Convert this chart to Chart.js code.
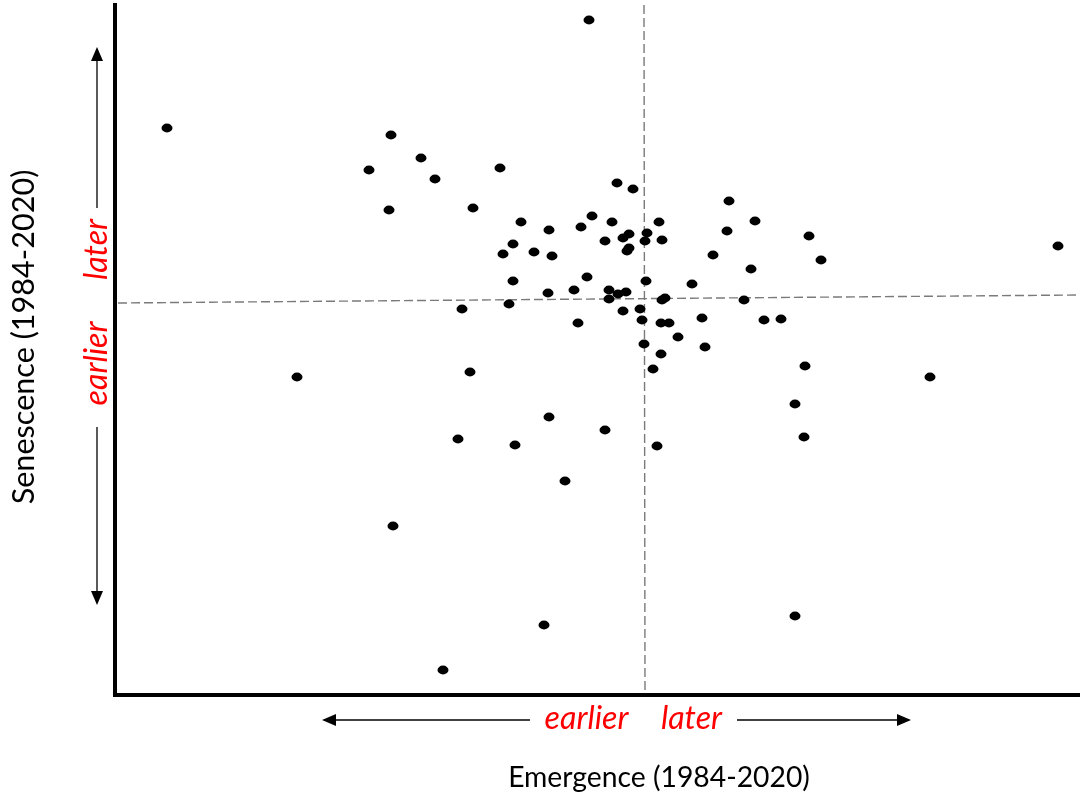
<!DOCTYPE html>
<html>
<head>
<meta charset="utf-8">
<script src="https://cdn.jsdelivr.net/npm/chart.js@4"></script>
<style>
  html, body { margin: 0; padding: 0; background: #fff; }
  canvas { display: block; }
</style>
</head>
<body>
<canvas id="scatter" width="1080" height="799"></canvas>
<script>
// shift in timing per site, arbitrary units (0 = reference date)
const emergence = [
  -47.8, -25.4, -22.4, -27.6, -21.0, -25.6, -5.6, -14.5, -2.8, -1.2,
  -17.2, 8.4, -12.4, -5.3, -3.3, 1.4, 11.0, -9.6, -6.4, -1.6,
  -2.2, 0.2, -4.0, 0.0, 1.7, 8.2, -13.2, -1.6, -1.8, -14.2,
  -11.1, -9.3, 6.8, 16.4, 17.6, 41.3, 10.6, -13.2, -5.8, 0.1,
  4.7, -9.7, -7.1, -3.6, -3.6, -2.7, -1.9, 1.7, 2.0, 9.9,
  -18.3, -13.6, -2.2, -0.5, -0.3, -6.7, 1.6, 2.4, 5.7, 11.9,
  13.6, 3.3, -0.1, 6.0, 1.6, 0.8, -17.5, -34.8, 16.0, 28.5,
  15.0, 15.9, -9.6, -4.0, -18.7, -13.0, 1.2, -8.0, -25.2, -10.1,
  15.0, -20.2
];
const senescence = [
  17.1, 16.4, 14.1, 12.9, 12.0, 8.9, 27.9, 13.1, 11.6, 11.0,
  9.1, 9.8, 7.7, 8.3, 7.7, 7.7, 7.8, 6.9, 7.2, 6.5,
  6.1, 6.6, 5.8, 5.8, 5.9, 6.8, 5.5, 5.1, 4.8, 4.5,
  4.7, 4.3, 4.4, 6.3, 3.9, 5.3, 3.0, 1.8, 2.2, 1.8,
  1.5, 0.6, 0.9, 0.9, 0.0, 0.5, 0.7, -0.1, 0.1, -0.1,
  -1.0, -0.5, -1.2, -1.0, -2.1, -2.4, -2.4, -2.4, -1.9, -2.1,
  -2.0, -3.8, -4.5, -4.8, -5.5, -7.0, -7.3, -7.8, -6.7, -7.8,
  -10.5, -13.8, -11.8, -13.1, -14.0, -14.6, -14.7, -18.2, -22.7, -32.6,
  -31.7, -37.1
];

// dashed reference lines (mean emergence / mean senescence)
const meanEmergenceLine = [[-0.1, 29.4], [0.0, -39.4]];
const meanSenescenceLine = [[-52.7, -0.4], [43.5, 0.4]];

const xRange = [-53, 43.5];
const yRange = [-39.6, 29.4];

const points = emergence.map((x, i) => ({ x: x, y: senescence[i] }));
const toXY = (pairs) => pairs.map(p => ({ x: p[0], y: p[1] }));

// slightly flattened dot used as the marker
const dot = document.createElement('canvas');
dot.width = 12;
dot.height = 10;
(function () {
  const c = dot.getContext('2d');
  c.fillStyle = '#000';
  c.beginPath();
  c.ellipse(6, 5, 5.5, 4.4, 0, 0, Math.PI * 2);
  c.fill();
})();

function fitFont(ctx, text, width, style, family) {
  ctx.font = style + ' 20px ' + family;
  const size = 20 * width / ctx.measureText(text).width;
  ctx.font = style + ' ' + size.toFixed(1) + 'px ' + family;
}

function arrowHead(ctx, tipX, tipY, dx, dy) {
  // dx, dy: unit direction the arrow points to
  const len = 14, half = 6;
  const bx = tipX - dx * len, by = tipY - dy * len;
  ctx.beginPath();
  ctx.moveTo(tipX, tipY);
  ctx.lineTo(bx - dy * half, by + dx * half);
  ctx.lineTo(bx + dy * half, by - dx * half);
  ctx.closePath();
  ctx.fill();
}

function segment(ctx, x1, y1, x2, y2) {
  ctx.beginPath();
  ctx.moveTo(x1, y1);
  ctx.lineTo(x2, y2);
  ctx.stroke();
}

const FONT = 'Lato, "Open Sans", sans-serif';

const annotations = {
  id: 'annotations',
  afterDraw(chart) {
    const ctx = chart.ctx;
    ctx.save();
    ctx.fillStyle = '#000';
    ctx.strokeStyle = '#000';
    ctx.lineWidth = 1.3;

    // horizontal direction arrow
    segment(ctx, 334, 720, 530, 720);
    arrowHead(ctx, 322, 720, -1, 0);
    segment(ctx, 737, 720, 899, 720);
    arrowHead(ctx, 911, 720, 1, 0);

    // vertical direction arrow
    segment(ctx, 97, 59, 97, 208);
    arrowHead(ctx, 97, 47, 0, -1);
    segment(ctx, 97, 427, 97, 593);
    arrowHead(ctx, 97, 605, 0, 1);

    ctx.textAlign = 'center';
    ctx.textBaseline = 'middle';

    // red direction words
    ctx.fillStyle = '#ff0000';
    fitFont(ctx, 'earlier', 84, 'italic', FONT);
    ctx.fillText('earlier', 586.5, 719);
    ctx.fillText('later', 691.5, 719);

    ctx.save();
    ctx.translate(97, 0);
    ctx.rotate(-Math.PI / 2);
    ctx.fillText('later', -249.5, 0);
    ctx.fillText('earlier', -363.5, 0);
    ctx.restore();

    // axis titles
    ctx.fillStyle = '#000';
    fitFont(ctx, 'Emergence (1984-2020)', 302, 'normal', FONT);
    ctx.fillText('Emergence (1984-2020)', 659, 778);

    ctx.save();
    ctx.translate(24, 0);
    ctx.rotate(-Math.PI / 2);
    fitFont(ctx, 'Senescence (1984-2020)', 335, 'normal', FONT);
    ctx.fillText('Senescence (1984-2020)', -337, 0);
    ctx.restore();

    ctx.restore();
  }
};

const dashed = {
  type: 'line',
  showLine: true,
  borderColor: '#7a7a7a',
  borderWidth: 1.4,
  borderDash: [9, 4],
  pointRadius: 0,
  fill: false,
  order: 2
};

new Chart(document.getElementById('scatter').getContext('2d'), {
  type: 'scatter',
  data: {
    datasets: [
      Object.assign({ data: toXY(meanEmergenceLine) }, dashed),
      Object.assign({ data: toXY(meanSenescenceLine) }, dashed),
      {
        data: points,
        pointStyle: dot,
        backgroundColor: '#000',
        borderColor: '#000',
        order: 1
      }
    ]
  },
  options: {
    responsive: false,
    animation: false,
    layout: {
      autoPadding: false,
      padding: { left: 115, right: 0, top: 5, bottom: 104 }
    },
    plugins: {
      legend: { display: false },
      tooltip: { enabled: false }
    },
    scales: {
      x: {
        type: 'linear',
        min: xRange[0],
        max: xRange[1],
        grid: { display: false },
        ticks: { display: false },
        border: { display: true, color: '#000', width: 4 },
        afterFit: (s) => { s.height = 0; s.paddingLeft = 0; s.paddingRight = 0; }
      },
      y: {
        type: 'linear',
        min: yRange[0],
        max: yRange[1],
        grid: { display: false },
        ticks: { display: false },
        border: { display: true, color: '#000', width: 4 },
        afterFit: (s) => { s.width = 0; s.paddingTop = 0; s.paddingBottom = 0; }
      }
    }
  },
  plugins: [annotations]
});
</script>
</body>
</html>
